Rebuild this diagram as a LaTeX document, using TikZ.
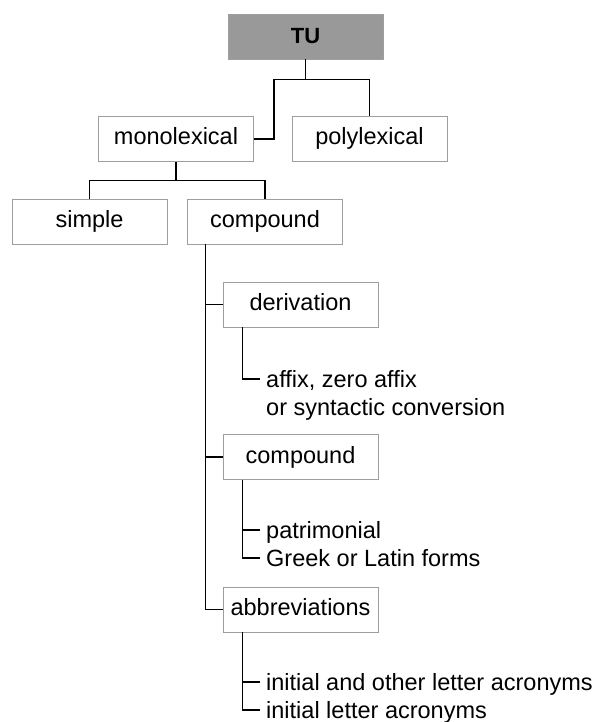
\documentclass[tikz,border=0pt]{standalone}
\usepackage{fontspec}
\setmainfont{Liberation Sans}
\begin{document}
\begin{tikzpicture}[x=1pt,y=-1pt,
  box/.style={draw=black!38, line width=0.9pt, fill=white, minimum width=155pt, minimum height=45pt, inner sep=0pt, font=\fontsize{23.5}{28}\selectfont, text height=17pt, text depth=5pt},
  rootbox/.style={box, fill=black!40, font=\fontsize{22}{26}\selectfont\bfseries, text height=16pt, text depth=1pt},
  item/.style={anchor=west, inner sep=0pt, font=\fontsize{23.5}{28}\selectfont, text height=20pt, text depth=4pt},
  conn/.style={line width=1.1pt, black},
  tick/.style={conn, shorten >=6pt}]
\useasboundingbox (0,0) rectangle (594,722);
% boxes
\node[rootbox] (tu) at (305.5,36.5) {TU};
\node[box] (mono) at (176,139) {monolexical};
\node[box] (poly) at (369.5,139) {polylexical};
\node[box] (simple) at (89.5,221.5) {simple};
\node[box] (comp) at (265,221.5) {compound};
\node[box] (deriv) at (300.5,304.5) {derivation};
\node[box] (comp2) at (300.5,457) {compound};
\node[box] (abbr) at (300.5,609.5) {abbreviations};
% leaf labels
\node[item] (af1) at (266,379) {affix, zero affix};
\node[item] (af2) at (266,407) {or syntactic conversion};
\node[item] (pat) at (266,530) {patrimonial};
\node[item] (greek) at (266,558) {Greek or Latin forms};
\node[item] (ini1) at (266,682) {initial and other letter acronyms};
\node[item] (ini2) at (266,710) {initial letter acronyms};
% connectors top
\draw[conn] (tu.south) -- ++(0,20) coordinate (tuj);
\draw[conn] (mono.east) -- ++(20,0) |- (tuj) -| (poly.north);
\draw[conn] (mono.south) -- ++(0,19) coordinate (mj);
\draw[conn] (simple.north) |- (mj) -| (comp.north);
% spine
\coordinate (spine) at ([xshift=18pt]comp.south west);
\draw[conn] (spine) |- (abbr.west);
\draw[conn] (spine |- deriv.west) -- (deriv.west);
\draw[conn] (spine |- comp2.west) -- (comp2.west);
% sub branches
\coordinate (ds) at ([xshift=20pt]deriv.south west);
\draw[tick] (ds) |- (af1.west);
\coordinate (cs) at ([xshift=20pt]comp2.south west);
\draw[tick] (cs) |- (greek.west);
\draw[tick] (cs |- pat.west) -- (pat.west);
\coordinate (as) at ([xshift=20pt]abbr.south west);
\draw[tick] (as) |- (ini2.west);
\draw[tick] (as |- ini1.west) -- (ini1.west);
\end{tikzpicture}
\end{document}
